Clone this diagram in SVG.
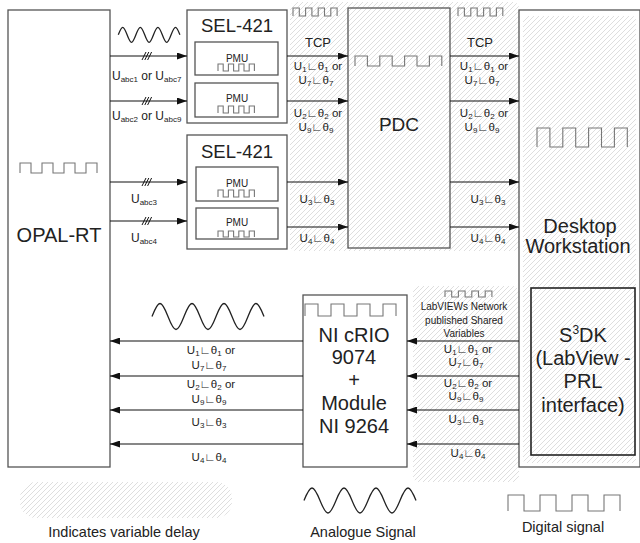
<svg xmlns="http://www.w3.org/2000/svg" xmlns:xlink="http://www.w3.org/1999/xlink" width="640" height="543" viewBox="0 0 640 543">
<style>
text{font-family:"Liberation Sans",Arial,sans-serif;fill:#222}
.box{fill:none;stroke:#555;stroke-width:1.3}
.big{font-size:20px;text-anchor:middle}
.pmu{font-size:10px;text-anchor:middle}
.lbl{font-size:11.5px;text-anchor:middle}
.sub{font-size:8px}
.dig{fill:none;stroke:#777;stroke-width:1.1}
.sine{fill:none;stroke:#222;stroke-width:1.3}
.arr{stroke:#111;stroke-width:1.2;fill:none;marker-end:url(#ah)}
.hat{fill:url(#hatch)}
.leg{font-size:14.5px;text-anchor:middle}
</style>
<defs>
<pattern id="hatch" patternUnits="userSpaceOnUse" width="5" height="5">
<path d="M-1,6 L6,-1" stroke="#d0d0d0" stroke-width="0.7"/>
</pattern>
<marker id="ah" markerUnits="userSpaceOnUse" markerWidth="10" markerHeight="7" refX="10" refY="3.5" orient="auto">
<path d="M0,0 L10,3.5 L0,7 z" fill="#111"/>
</marker>
<path id="tri" d="M0,4 l4,-8 M2.8,4 l4,-8 M5.6,4 l4,-8" stroke="#111" stroke-width="1" fill="none"/>
</defs>

<!-- variable delay hatched areas -->
<g id="delay-areas">
<rect class="hat" x="290" y="2" width="229" height="249" rx="6"/>
<rect class="hat" x="523" y="16" width="113" height="447" rx="4"/>
<rect class="hat" x="413" y="286" width="106" height="196" rx="6"/>
</g>

<g id="opal-rt">
<rect class="box" x="8" y="10" width="102" height="457"/>
<path class="dig" d="M20,173 v-10 h11 v10 h11 v-10 h11 v10 h11 v-10 h11 v10 h11 v-10 h11 v10"/>
<text class="big" x="59" y="242">OPAL-RT</text>
</g>

<g id="sel1">
<rect class="box" x="187" y="10" width="100" height="113"/>
<text x="237" y="32" style="font-size:18.5px;text-anchor:middle">SEL-421</text>
<g id="pmu1">
<rect class="box" x="195" y="42" width="83" height="33"/>
<text class="pmu" x="237" y="61.5">PMU</text>
<path class="dig" d="M218,71 v-7 h5.2 v7 h5.2 v-7 h5.2 v7 h5.2 v-7 h5.2 v7 h5.2 v-7 h5.2 v7"/>
</g>
<g id="pmu2">
<rect class="box" x="195" y="83" width="83" height="34"/>
<text class="pmu" x="237" y="102">PMU</text>
<path class="dig" d="M218,113 v-7 h5.2 v7 h5.2 v-7 h5.2 v7 h5.2 v-7 h5.2 v7 h5.2 v-7 h5.2 v7"/>
</g>
</g>

<g id="sel2">
<rect class="box" x="187" y="135" width="100" height="114"/>
<text x="237" y="158" style="font-size:18.5px;text-anchor:middle">SEL-421</text>
<g id="pmu3">
<rect class="box" x="196" y="167" width="82" height="34"/>
<text class="pmu" x="237" y="186.5">PMU</text>
<path class="dig" d="M218,197 v-7 h5.2 v7 h5.2 v-7 h5.2 v7 h5.2 v-7 h5.2 v7 h5.2 v-7 h5.2 v7"/>
</g>
<g id="pmu4">
<rect class="box" x="196" y="208" width="82" height="31"/>
<text class="pmu" x="237" y="225.5">PMU</text>
<path class="dig" d="M218,237 v-6 h5.2 v6 h5.2 v-6 h5.2 v6 h5.2 v-6 h5.2 v6 h5.2 v-6 h5.2 v6"/>
</g>
</g>

<g id="pdc">
<rect class="box" x="348" y="8" width="102" height="240"/>
<path class="dig" d="M355,66 v-10 h12.4 v10 h12.4 v-10 h12.4 v10 h12.4 v-10 h12.4 v10 h12.4 v-10 h12.4 v10"/>
<text x="399" y="131" style="font-size:19px;text-anchor:middle">PDC</text>
</g>

<g id="desktop">
<rect class="box" x="519" y="10" width="121" height="457"/>
<path class="dig" d="M537,147 v-19 h12.9 v19 h12.9 v-19 h12.9 v19 h12.9 v-19 h12.9 v19 h12.9 v-19 h12.9 v19"/>
<text class="big" x="580" y="233">Desktop</text>
<text class="big" x="578" y="253">Workstation</text>
</g>

<g id="s3dk">
<rect x="531" y="288" width="104" height="167" fill="none" stroke="#222" stroke-width="1.6"/>
<text class="big" x="583" y="342">S<tspan style="font-size:12px" dy="-8">3</tspan><tspan dy="8">DK</tspan></text>
<text class="big" x="583" y="365">(LabView -</text>
<text class="big" x="583" y="388">PRL</text>
<text class="big" x="583" y="412">interface)</text>
</g>

<g id="ni-crio">
<rect class="box" x="303" y="295" width="104" height="172"/>
<path class="dig" d="M305,316 v-12 h13 v12 h13 v-12 h13 v12 h13 v-12 h13 v12 h13 v-12 h13 v12"/>
<text class="big" x="354" y="342">NI cRIO</text>
<text class="big" x="354" y="364">9074</text>
<text class="big" x="354" y="387">+</text>
<text class="big" x="354" y="410">Module</text>
<text class="big" x="354" y="433">NI 9264</text>
</g>

<g id="connectors">
<!-- OPAL -> SEL -->
<path class="sine" d="M118.3,34.8 c1.43,-3.84 2.81,-7.5 4.4,-7.5 c1.59,0 2.97,3.66 4.4,7.5 c1.43,3.84 2.81,7.5 4.4,7.5 c1.59,0 2.97,-3.66 4.4,-7.5 c1.43,-3.84 2.81,-7.5 4.4,-7.5 c1.59,0 2.97,3.66 4.4,7.5 c1.43,3.84 2.81,7.5 4.4,7.5 c1.59,0 2.97,-3.66 4.4,-7.5 c1.43,-3.84 2.81,-7.5 4.4,-7.5 c1.59,0 2.97,3.66 4.4,7.5 c1.43,3.84 2.81,7.5 4.4,7.5 c1.59,0 2.97,-3.66 4.4,-7.5 c1.43,-3.84 2.81,-7.5 4.4,-7.5 c1.59,0 2.97,3.66 4.4,7.5"/>
<line class="arr" x1="110" y1="56" x2="187" y2="56"/>
<line class="arr" x1="110" y1="101" x2="187" y2="101"/>
<line class="arr" x1="110" y1="182" x2="187" y2="182"/>
<line class="arr" x1="110" y1="221" x2="187" y2="221"/>
<use xlink:href="#tri" x="142" y="56"/>
<use xlink:href="#tri" x="142" y="101"/>
<use xlink:href="#tri" x="142" y="182"/>
<use xlink:href="#tri" x="142" y="221"/>
<text x="112" y="80" style="font-size:12px">U<tspan class="sub" dy="2">abc1</tspan><tspan dy="-2"> or U</tspan><tspan class="sub" dy="2">abc7</tspan></text>
<text x="112" y="120" style="font-size:12px">U<tspan class="sub" dy="2">abc2</tspan><tspan dy="-2"> or U</tspan><tspan class="sub" dy="2">abc9</tspan></text>
<text x="131" y="203" style="font-size:12px">U<tspan class="sub" dy="2">abc3</tspan></text>
<text x="131" y="242" style="font-size:12px">U<tspan class="sub" dy="2">abc4</tspan></text>

<!-- SEL -> PDC -->
<path class="dig" d="M293,16 v-8 h6.3 v8 h6.3 v-8 h6.3 v8 h6.3 v-8 h6.3 v8 h6.3 v-8 h6.3 v8"/>
<text x="318" y="47" style="font-size:13px;text-anchor:middle">TCP</text>
<line class="arr" x1="287" y1="56" x2="348" y2="56"/>
<line class="arr" x1="287" y1="101" x2="348" y2="101"/>
<line class="arr" x1="287" y1="182" x2="348" y2="182"/>
<line class="arr" x1="287" y1="227" x2="348" y2="227"/>
<text class="lbl" x="318" y="70">U<tspan class="sub" dy="2">1</tspan><tspan dy="-2">∟θ</tspan><tspan class="sub" dy="2">1</tspan><tspan dy="-2"> or</tspan></text>
<text class="lbl" x="316" y="84">U<tspan class="sub" dy="2">7</tspan><tspan dy="-2">∟θ</tspan><tspan class="sub" dy="2">7</tspan></text>
<text class="lbl" x="318" y="117">U<tspan class="sub" dy="2">2</tspan><tspan dy="-2">∟θ</tspan><tspan class="sub" dy="2">2</tspan><tspan dy="-2"> or</tspan></text>
<text class="lbl" x="316" y="131">U<tspan class="sub" dy="2">9</tspan><tspan dy="-2">∟θ</tspan><tspan class="sub" dy="2">9</tspan></text>
<text class="lbl" x="317" y="203">U<tspan class="sub" dy="2">3</tspan><tspan dy="-2">∟θ</tspan><tspan class="sub" dy="2">3</tspan></text>
<text class="lbl" x="317" y="242">U<tspan class="sub" dy="2">4</tspan><tspan dy="-2">∟θ</tspan><tspan class="sub" dy="2">4</tspan></text>

<!-- PDC -> Desktop -->
<path class="dig" d="M458,16 v-8 h6.4 v8 h6.4 v-8 h6.4 v8 h6.4 v-8 h6.4 v8 h6.4 v-8 h6.4 v8"/>
<text x="480" y="47" style="font-size:13px;text-anchor:middle">TCP</text>
<line class="arr" x1="450" y1="56" x2="519" y2="56"/>
<line class="arr" x1="450" y1="101" x2="519" y2="101"/>
<line class="arr" x1="450" y1="182" x2="519" y2="182"/>
<line class="arr" x1="450" y1="227" x2="519" y2="227"/>
<text class="lbl" x="484" y="70">U<tspan class="sub" dy="2">1</tspan><tspan dy="-2">∟θ</tspan><tspan class="sub" dy="2">1</tspan><tspan dy="-2"> or</tspan></text>
<text class="lbl" x="482" y="84">U<tspan class="sub" dy="2">7</tspan><tspan dy="-2">∟θ</tspan><tspan class="sub" dy="2">7</tspan></text>
<text class="lbl" x="484" y="117">U<tspan class="sub" dy="2">2</tspan><tspan dy="-2">∟θ</tspan><tspan class="sub" dy="2">2</tspan><tspan dy="-2"> or</tspan></text>
<text class="lbl" x="482" y="131">U<tspan class="sub" dy="2">9</tspan><tspan dy="-2">∟θ</tspan><tspan class="sub" dy="2">9</tspan></text>
<text class="lbl" x="488" y="203">U<tspan class="sub" dy="2">3</tspan><tspan dy="-2">∟θ</tspan><tspan class="sub" dy="2">3</tspan></text>
<text class="lbl" x="488" y="242">U<tspan class="sub" dy="2">4</tspan><tspan dy="-2">∟θ</tspan><tspan class="sub" dy="2">4</tspan></text>

<!-- S3DK -> NI cRIO -->
<path class="dig" d="M445,297 v-6 h6.7 v6 h6.7 v-6 h6.7 v6 h6.7 v-6 h6.7 v6 h6.7 v-6 h6.7 v6"/>
<text x="464" y="310" style="font-size:10px;text-anchor:middle">LabVIEWs Network</text>
<text x="464" y="323.5" style="font-size:10px;text-anchor:middle">published Shared</text>
<text x="464" y="337" style="font-size:10px;text-anchor:middle">Variables</text>
<line class="arr" x1="519" y1="341" x2="407" y2="341"/>
<line class="arr" x1="519" y1="376" x2="407" y2="376"/>
<line class="arr" x1="519" y1="410" x2="407" y2="410"/>
<line class="arr" x1="519" y1="444" x2="407" y2="444"/>
<text class="lbl" x="468" y="353">U<tspan class="sub" dy="2">1</tspan><tspan dy="-2">∟θ</tspan><tspan class="sub" dy="2">1</tspan><tspan dy="-2"> or</tspan></text>
<text class="lbl" x="466" y="366">U<tspan class="sub" dy="2">7</tspan><tspan dy="-2">∟θ</tspan><tspan class="sub" dy="2">7</tspan></text>
<text class="lbl" x="468" y="387">U<tspan class="sub" dy="2">2</tspan><tspan dy="-2">∟θ</tspan><tspan class="sub" dy="2">2</tspan><tspan dy="-2"> or</tspan></text>
<text class="lbl" x="466" y="400">U<tspan class="sub" dy="2">9</tspan><tspan dy="-2">∟θ</tspan><tspan class="sub" dy="2">9</tspan></text>
<text class="lbl" x="466" y="423">U<tspan class="sub" dy="2">3</tspan><tspan dy="-2">∟θ</tspan><tspan class="sub" dy="2">3</tspan></text>
<text class="lbl" x="468" y="457">U<tspan class="sub" dy="2">4</tspan><tspan dy="-2">∟θ</tspan><tspan class="sub" dy="2">4</tspan></text>

<!-- NI cRIO -> OPAL-RT -->
<path class="sine" d="M152,316.5 c2.6,-6.7 5.1,-13 8,-13 c2.9,0 5.4,6.3 8,13 c2.6,6.7 5.1,13 8,13 c2.9,0 5.4,-6.3 8,-13 c2.6,-6.7 5.1,-13 8,-13 c2.9,0 5.4,6.3 8,13 c2.6,6.7 5.1,13 8,13 c2.9,0 5.4,-6.3 8,-13 c2.6,-6.7 5.1,-13 8,-13 c2.9,0 5.4,6.3 8,13 c2.6,6.7 5.1,13 8,13 c2.9,0 5.4,-6.3 8,-13 c2.6,-6.7 5.1,-13 8,-13 c2.9,0 5.4,6.3 8,13"/>
<line class="arr" x1="303" y1="341" x2="110" y2="341"/>
<line class="arr" x1="303" y1="376" x2="110" y2="376"/>
<line class="arr" x1="303" y1="410" x2="110" y2="410"/>
<line class="arr" x1="303" y1="444" x2="110" y2="444"/>
<text class="lbl" x="211" y="354">U<tspan class="sub" dy="2">1</tspan><tspan dy="-2">∟θ</tspan><tspan class="sub" dy="2">1</tspan><tspan dy="-2"> or</tspan></text>
<text class="lbl" x="209" y="369">U<tspan class="sub" dy="2">7</tspan><tspan dy="-2">∟θ</tspan><tspan class="sub" dy="2">7</tspan></text>
<text class="lbl" x="211" y="388">U<tspan class="sub" dy="2">2</tspan><tspan dy="-2">∟θ</tspan><tspan class="sub" dy="2">2</tspan><tspan dy="-2"> or</tspan></text>
<text class="lbl" x="209" y="403">U<tspan class="sub" dy="2">9</tspan><tspan dy="-2">∟θ</tspan><tspan class="sub" dy="2">9</tspan></text>
<text class="lbl" x="209" y="426">U<tspan class="sub" dy="2">3</tspan><tspan dy="-2">∟θ</tspan><tspan class="sub" dy="2">3</tspan></text>
<text class="lbl" x="209" y="461">U<tspan class="sub" dy="2">4</tspan><tspan dy="-2">∟θ</tspan><tspan class="sub" dy="2">4</tspan></text>
</g>

<g id="legend">
<rect class="hat" x="20" y="482" width="212" height="36" rx="16"/>
<text class="leg" x="124" y="537">Indicates variable delay</text>
<path class="sine" d="M304,500.5 c2.6,-6.4 5.1,-12.5 8,-12.5 c2.9,0 5.4,6.1 8,12.5 c2.6,6.4 5.1,12.5 8,12.5 c2.9,0 5.4,-6.1 8,-12.5 c2.6,-6.4 5.1,-12.5 8,-12.5 c2.9,0 5.4,6.1 8,12.5 c2.6,6.4 5.1,12.5 8,12.5 c2.9,0 5.4,-6.1 8,-12.5 c2.6,-6.4 5.1,-12.5 8,-12.5 c2.9,0 5.4,6.1 8,12.5 c2.6,6.4 5.1,12.5 8,12.5 c2.9,0 5.4,-6.1 8,-12.5 c2.6,-6.4 5.1,-12.5 8,-12.5 c2.9,0 5.4,6.1 8,12.5"/>
<text class="leg" x="363" y="537">Analogue Signal</text>
<path class="dig" d="M508,511 v-16 h16 v16 h16 v-16 h16 v16 h16 v-16 h16 v16 h16 v-16 h16 v16"/>
<text class="leg" x="563" y="532">Digital signal</text>
</g>
</svg>
